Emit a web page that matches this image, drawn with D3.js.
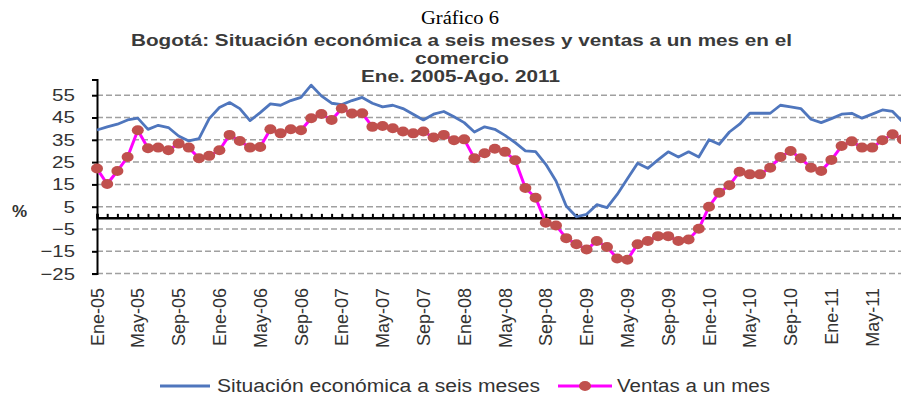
<!DOCTYPE html>
<html>
<head>
<meta charset="utf-8">
<script src="https://cdn.jsdelivr.net/npm/d3@7"></script>
<style>
  body { margin: 0; background: #fff; }
  text { font-family: "Liberation Sans", Arial, sans-serif; fill: #333; }
</style>
</head>
<body>
<svg id="chart" width="901" height="400"></svg>
<script>
// Data (monthly, Ene-05 .. Ago-11)
const monthNames = ['Ene', 'Feb', 'Mar', 'Abr', 'May', 'Jun', 'Jul', 'Ago', 'Sep', 'Oct', 'Nov', 'Dic'];
const years = ['05', '06', '07', '08', '09', '10', '11'];

const situacion = [
  39.4, 40.8, 42, 43.9, 44.7, 39.7, 41.5, 40.5, 36.7, 34.5, 35.5, 44.5,
  49.5, 51.7, 49, 43.6, 47.2, 51.1, 50.5, 52.6, 54, 59.5, 54.7, 51.4,
  50.8, 52.6, 54, 51.4, 49.8, 50.5, 49, 46.5, 43.9, 46.5, 47.7, 45.3,
  42.7, 38.5, 40.8, 39.7, 37, 33.7, 30, 29.7, 24, 16.5, 5.3, 0.5,
  1.6, 5.9, 4.6, 10.5, 17.5, 24.5, 22.2, 26, 29.6, 27.3, 29.6, 27.3,
  35, 33, 38.5, 42, 46.9, 46.9, 46.9, 50.5, 49.8, 49, 44.2, 42.7,
  44.5, 46.5, 46.9, 44.7, 46.5, 48.4, 47.7, 43
];

const ventas = [
  22.1, 15.2, 21, 27.3, 39.3, 31.2, 31.5, 30.3, 33.3, 31.5, 26.7, 27.8,
  30.3, 37.2, 34.5, 31.5, 31.8, 39.7, 37.9, 39.7, 39.3, 44.7, 46.6, 43.9,
  49, 46.8, 46.9, 40.8, 41.2, 40.2, 38.7, 37.9, 38.7, 36, 37.2, 34.8,
  35.2, 26.7, 29, 31, 29.6, 25.8, 13.4, 9, -2.2, -3.4, -9.1, -11.8,
  -14.2, -10.4, -13.1, -18.2, -18.8, -11.8, -10.4, -8.2, -8.2, -10.4, -9.7, -4.9,
  5, 11.3, 14.6, 20.7, 19.5, 19.5, 22.5, 27.3, 30, 26.7, 22.5, 21,
  26, 32.2, 34.3, 31.5, 31.5, 34.8, 37.5, 35.2
];

const yTicks = [-25, -15, -5, 5, 15, 25, 35, 45, 55];

// month categories
const months = [];
years.forEach(y => monthNames.forEach(m => months.push(m + '-' + y)));
months.length = situacion.length;

const svg = d3.select('#chart');

const x = d3.scaleLinear().domain([0, months.length - 1]).range([97, 902.8]);
const y = d3.scaleLinear().domain([-25, 62]).range([273.6, 79.6]);

// Titles (widths stretched like the original picture)
svg.append('text')
  .attr('x', 421).attr('y', 24)
  .attr('textLength', 78).attr('lengthAdjust', 'spacingAndGlyphs')
  .style('font-family', '"Liberation Serif", "Times New Roman", serif')
  .style('font-size', '18px').style('fill', '#000')
  .text('Gráfico 6');

const titleLines = [
  { text: 'Bogotá: Situación económica a seis meses y ventas a un mes en el', x0: 131, w: 661 },
  { text: 'comercio', x0: 415, w: 94 },
  { text: 'Ene. 2005-Ago. 2011', x0: 361, w: 199 }
];
svg.selectAll('.title')
  .data(titleLines)
  .enter().append('text')
  .attr('class', 'title')
  .attr('x', d => d.x0)
  .attr('y', (d, i) => 46 + i * 18)
  .attr('textLength', d => d.w).attr('lengthAdjust', 'spacingAndGlyphs')
  .style('font-size', '17px').style('font-weight', 'bold').style('fill', '#3a3a3a')
  .text(d => d.text);

// Dashed gridlines
svg.append('g')
  .selectAll('line')
  .data(yTicks)
  .enter().append('line')
  .attr('x1', x(0)).attr('x2', 901)
  .attr('y1', d => y(d)).attr('y2', d => y(d))
  .attr('stroke', '#a0a0a0').attr('stroke-width', 1.5)
  .attr('stroke-dasharray', '6,3');

// Y axis
const yAxis = d3.axisLeft(y).tickValues(yTicks).tickSize(5).tickPadding(17);
const gy = svg.append('g').attr('transform', `translate(${x(0)},0)`).call(yAxis);
gy.select('.domain').attr('stroke', '#000').attr('stroke-width', 2);
gy.selectAll('.tick line').attr('stroke', '#000').attr('stroke-width', 2);
gy.selectAll('.tick text')
  .style('font-size', '17px').style('fill', '#333')
  .attr('textLength', d => String(d).length * 11.5)
  .attr('lengthAdjust', 'spacingAndGlyphs');

svg.append('text')
  .attr('x', 12).attr('y', 217)
  .style('font-size', '17px').style('font-weight', 'bold')
  .text('%');

// X axis along zero
const xAxis = d3.axisTop(x)
  .tickValues(d3.range(months.length))
  .tickSize(4)
  .tickFormat('');
const gx = svg.append('g').attr('transform', `translate(0,${y(0)})`).call(xAxis);
gx.select('.domain').attr('stroke', '#000').attr('stroke-width', 2.5);
gx.selectAll('.tick line').attr('stroke', '#000').attr('stroke-width', 2);

// rotated month labels every 4 months
svg.append('g')
  .selectAll('text')
  .data(d3.range(0, months.length, 4))
  .enter().append('text')
  .attr('transform', d => `translate(${x(d) + 6.5},288) rotate(-90)`)
  .attr('text-anchor', 'end')
  .style('font-size', '18px')
  .text(d => months[d]);

// Lines
const line = (arr) => d3.line().x((d, i) => x(i)).y(d => y(d))(arr);

svg.append('path')
  .attr('d', line(situacion))
  .attr('fill', 'none').attr('stroke', '#4f76bd').attr('stroke-width', 2.8)
  .attr('stroke-linejoin', 'round');

svg.append('path')
  .attr('d', line(ventas))
  .attr('fill', 'none').attr('stroke', '#ff00ff').attr('stroke-width', 3)
  .attr('stroke-linejoin', 'round');

svg.append('g')
  .selectAll('ellipse')
  .data(ventas)
  .enter().append('ellipse')
  .attr('cx', (d, i) => x(i)).attr('cy', d => y(d))
  .attr('rx', 6).attr('ry', 5)
  .attr('fill', '#c0504d');

// Legend
const leg = svg.append('g');
leg.append('line')
  .attr('x1', 160).attr('x2', 210).attr('y1', 386).attr('y2', 386)
  .attr('stroke', '#4f76bd').attr('stroke-width', 3);
leg.append('text')
  .attr('x', 217).attr('y', 392)
  .attr('textLength', 323).attr('lengthAdjust', 'spacingAndGlyphs')
  .style('font-size', '18px')
  .text('Situación económica a seis meses');
leg.append('line')
  .attr('x1', 558).attr('x2', 612).attr('y1', 386).attr('y2', 386)
  .attr('stroke', '#ff00ff').attr('stroke-width', 3);
leg.append('ellipse')
  .attr('cx', 585).attr('cy', 386).attr('rx', 6).attr('ry', 5)
  .attr('fill', '#c0504d');
leg.append('text')
  .attr('x', 617).attr('y', 392)
  .attr('textLength', 153).attr('lengthAdjust', 'spacingAndGlyphs')
  .style('font-size', '18px')
  .text('Ventas a un mes');
</script>
</body>
</html>
